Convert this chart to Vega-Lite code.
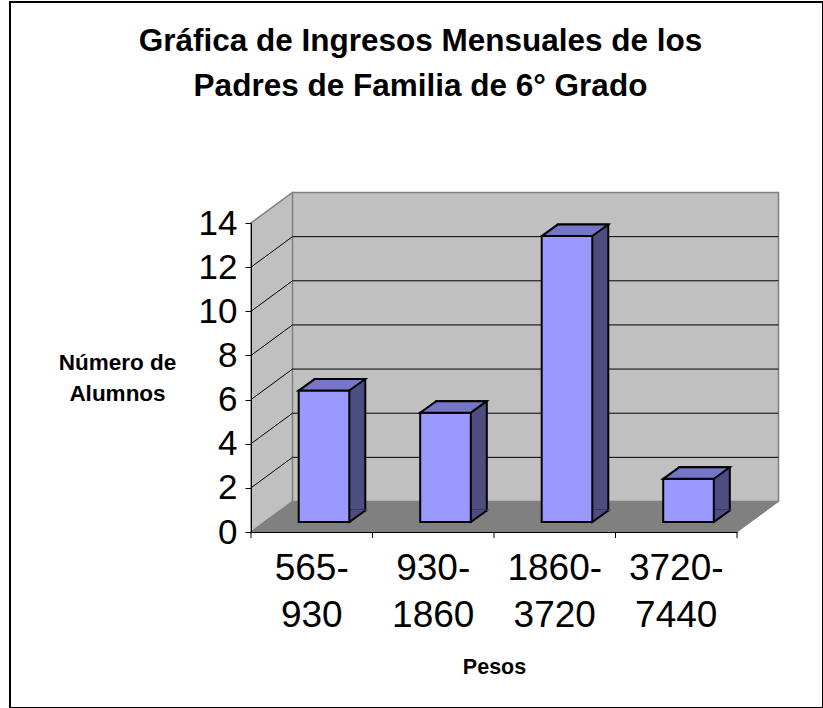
{
  "$schema": "https://vega.github.io/schema/vega-lite/v6.json",
  "width": 813,
  "height": 706,
  "padding": {"left": 10, "top": 2, "right": 0, "bottom": 0},
  "autosize": {"type": "none"},
  "background": "white",
  "config": {
    "view": {"stroke": "black", "strokeWidth": 2},
    "font": "Liberation Sans"
  },
  "title": {
    "text": ["Gráfica de Ingresos Mensuales de los", "Padres de Familia de 6° Grado"],
    "font": "Liberation Sans",
    "fontSize": 31.5,
    "fontWeight": "bold",
    "color": "black",
    "lineHeight": 45,
    "anchor": "middle",
    "frame": "group",
    "offset": -100,
    "dx": 4
  },
  "datasets": {
    "ingresos": [
      {"rango": "565-930", "alumnos": 6},
      {"rango": "930-1860", "alumnos": 5},
      {"rango": "1860-3720", "alumnos": 13},
      {"rango": "3720-7440", "alumnos": 2}
    ],
    "rejilla": [{"v": 2}, {"v": 4}, {"v": 6}, {"v": 8}, {"v": 10}, {"v": 12}],
    "marco": [{"parte": "paredes"}]
  },
  "layer": [
    {
      "data": {"name": "marco"},
      "mark": {"type": "point", "shape": "M-19.25,-339.5H466.75V-30.5H-19.25Z M-60.75,0V-309L-19.25,-339.5V-30.5Z", "size": 4, "filled": true, "fill": "#C0C0C0", "stroke": "#808080", "strokeWidth": 1.5, "opacity": 1},
      "encoding": {
        "x": {"datum": "565-930", "type": "nominal", "title": "Pesos",
          "scale": {"domain": ["565-930", "930-1860", "1860-3720", "3720-7440"], "range": [241, 727], "paddingInner": 0, "paddingOuter": 0}},
        "y": {"datum": 0, "type": "quantitative", "title": ["Número de", "Alumnos"],
          "scale": {"domain": [0, 14], "range": [530, 221], "nice": false, "zero": true}}
      }
    },
    {
      "data": {"name": "marco"},
      "mark": {"type": "point", "shape": "M-60.75,0H425.25L466.75,-30.5H-19.25Z", "size": 4, "filled": true, "fill": "#808080", "stroke": "#808080", "strokeWidth": 1, "opacity": 1},
      "encoding": {
        "x": {"datum": "565-930", "type": "nominal", "title": "Pesos"},
        "y": {"datum": 0, "type": "quantitative", "title": ["Número de", "Alumnos"]}
      }
    },
    {
      "data": {"name": "rejilla"},
      "mark": {"type": "point", "shape": "M-60.75,0L-19.25,-30.5H466.75", "size": 4, "filled": false, "stroke": "black", "strokeWidth": 1, "opacity": 1},
      "encoding": {
        "x": {"datum": "565-930", "type": "nominal", "title": "Pesos"},
        "y": {"field": "v", "type": "quantitative", "title": ["Número de", "Alumnos"]}
      }
    },
    {
      "data": {"name": "marco"},
      "mark": {"type": "point", "shape": "M-60.75,0V6M60.75,0V6M182.25,0V6M303.75,0V6M425.25,0V6", "size": 4, "filled": false, "stroke": "black", "strokeWidth": 1, "opacity": 1},
      "encoding": {
        "x": {"datum": "565-930", "type": "nominal", "title": "Pesos"},
        "y": {"datum": 0, "type": "quantitative", "title": ["Número de", "Alumnos"]}
      }
    },
    {
      "data": {"name": "ingresos"},
      "mark": {"type": "bar", "width": 50.6, "xOffset": 28.25, "yOffset": -20.5, "y2Offset": -21.5, "fill": "#4D4D82", "stroke": "black", "strokeWidth": 2},
      "encoding": {
        "x": {"field": "rango", "type": "nominal", "title": "Pesos"},
        "y": {"field": "alumnos", "type": "quantitative", "title": ["Número de", "Alumnos"]},
        "y2": {"datum": 0}
      }
    },
    {
      "data": {"name": "ingresos"},
      "mark": {"type": "point", "shape": "M37.55,-21.5H53.55L37.55,-10Z", "size": 4, "filled": true, "fill": "#4D4D82", "stroke": "#4D4D82", "strokeWidth": 2, "opacity": 1},
      "encoding": {
        "x": {"field": "rango", "type": "nominal", "title": "Pesos"},
        "y": {"datum": 0, "type": "quantitative", "title": ["Número de", "Alumnos"]}
      }
    },
    {
      "data": {"name": "ingresos"},
      "mark": {"type": "bar", "width": 50.6, "xOffset": 12.25, "yOffset": -9, "y2Offset": -10, "fill": "#9999FF", "stroke": "black", "strokeWidth": 2},
      "encoding": {
        "x": {"field": "rango", "type": "nominal", "title": "Pesos",
          "axis": {"orient": "bottom", "offset": -176, "zindex": 1, "ticks": false, "domainColor": "black", "domainWidth": 1,
            "labelFont": "Liberation Sans", "labelFontSize": 37, "labelColor": "black", "labelAngle": 0, "labelAlign": "center", "labelLineHeight": 47, "labelPadding": 18, "labelBaseline": "top",
            "labelExpr": "[split(datum.label, '-')[0] + '-', split(datum.label, '-')[1]]",
            "title": "Pesos", "titleFont": "Liberation Sans", "titleFontSize": 21.5, "titleFontWeight": "bold", "titleColor": "black", "titleBaseline": "alphabetic", "titleY": 141}},
        "y": {"field": "alumnos", "type": "quantitative", "title": ["Número de", "Alumnos"],
          "axis": {"orient": "left", "offset": -241, "zindex": 1, "values": [0, 2, 4, 6, 8, 10, 12, 14], "grid": false, "domainColor": "black", "domainWidth": 1, "tickColor": "black", "tickSize": 6, "tickWidth": 1,
            "labelFont": "Liberation Sans", "labelFontSize": 35, "labelColor": "black", "labelPadding": 8,
            "title": ["Número de", "Alumnos"], "titleFont": "Liberation Sans", "titleFontSize": 22.5, "titleFontWeight": "bold", "titleColor": "black", "titleAngle": 0, "titleAlign": "center", "titleBaseline": "top", "titleLineHeight": 31, "titleX": -134, "titleY": 349}},
        "y2": {"datum": 0}
      }
    },
    {
      "data": {"name": "ingresos"},
      "mark": {"type": "point", "shape": "M-13.05,-9H37.55L53.55,-20.5H2.95Z", "size": 4, "filled": true, "fill": "#7676C8", "stroke": "black", "strokeWidth": 2, "opacity": 1},
      "encoding": {
        "x": {"field": "rango", "type": "nominal", "title": "Pesos"},
        "y": {"field": "alumnos", "type": "quantitative", "title": ["Número de", "Alumnos"]}
      }
    },
    {
      "data": {"name": "ingresos"},
      "mark": {"type": "point", "shape": "M37.55,-10L53.55,-21.5", "size": 4, "filled": false, "stroke": "black", "strokeWidth": 2, "opacity": 1},
      "encoding": {
        "x": {"field": "rango", "type": "nominal", "title": "Pesos"},
        "y": {"datum": 0, "type": "quantitative", "title": ["Número de", "Alumnos"]}
      }
    }
  ]
}
